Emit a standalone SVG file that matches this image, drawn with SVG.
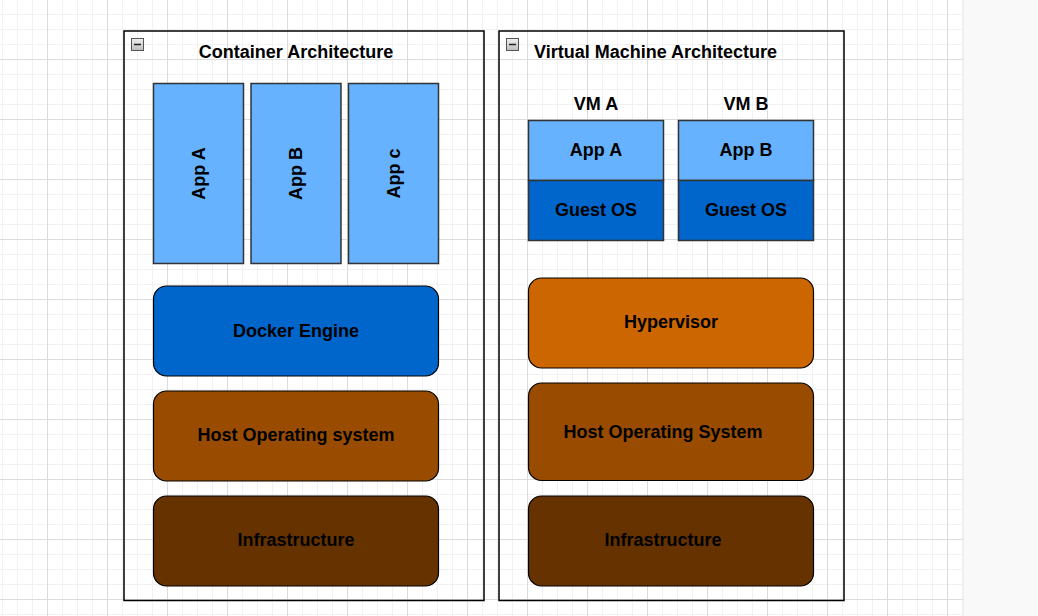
<svg xmlns="http://www.w3.org/2000/svg" width="1038" height="616" viewBox="0 0 1038 616">
  <defs>
    <pattern id="grid" patternUnits="userSpaceOnUse" x="-13" y="-1" width="60" height="60">
      <path d="M15.5 0V60M30.5 0V60M45.5 0V60M0 15.5H60M0 30.5H60M0 45.5H60" stroke="#f1f1f1" stroke-width="1" fill="none"/>
      <path d="M0.5 0V60M0 0.5H60" stroke="#dcdcdc" stroke-width="1" fill="none"/>
    </pattern>
    <linearGradient id="btn" x1="0" y1="0" x2="0" y2="1">
      <stop offset="0" stop-color="#f0f0f0"/>
      <stop offset="1" stop-color="#bdbdbd"/>
    </linearGradient>
  </defs>
  <style>
    text { font-family: "Liberation Sans", Arial, sans-serif; font-weight: bold; font-size: 18px; fill: #000; }
    .c { text-anchor: middle; }
    .container { fill: none; stroke: #000; stroke-width: 1.5; }
    .app { fill: #66B2FF; stroke: #333; stroke-width: 1.5; }
    .guest { fill: #0066CC; stroke: #333; stroke-width: 1.5; }
    .layer { stroke: #000; stroke-width: 1.2; }
    .btn { fill: url(#btn); stroke: #555; stroke-width: 1; }
  </style>
  <rect x="0" y="0" width="1038" height="616" fill="#ffffff"/>
  <rect x="0" y="0" width="963" height="616" fill="url(#grid)"/>
  <rect x="963" y="0" width="75" height="616" fill="#f9f9f9"/>
  <line x1="963.5" y1="0" x2="963.5" y2="616" stroke="#eeeeee"/>

  <g id="container-arch">
    <rect class="container" x="124" y="31" width="360" height="569.5"/>
    <rect class="btn" x="131.5" y="38.5" width="12" height="12"/>
    <line x1="134" y1="44.5" x2="141" y2="44.5" stroke="#222" stroke-width="1.5"/>
    <text class="c" x="296" y="58">Container Architecture</text>
  </g>
  <g id="vm-arch">
    <rect class="container" x="499" y="31" width="345" height="569.5"/>
    <rect class="btn" x="506.5" y="38.5" width="12" height="12"/>
    <line x1="509" y1="44.5" x2="516" y2="44.5" stroke="#222" stroke-width="1.5"/>
    <text x="534" y="58">Virtual Machine Architecture</text>
  </g>

  <g id="app-a-c">
    <rect class="app" x="153.5" y="83.5" width="90" height="180"/>
    <text class="c" transform="translate(204.5 173.5) rotate(-90)">App A</text>
  </g>
  <g id="app-b-c">
    <rect class="app" x="251" y="83.5" width="90" height="180"/>
    <text class="c" transform="translate(302 173.5) rotate(-90)">App B</text>
  </g>
  <g id="app-c-c">
    <rect class="app" x="348.5" y="83.5" width="90" height="180"/>
    <text class="c" transform="translate(399.5 173.5) rotate(-90)">App c</text>
  </g>
  <g id="docker-engine">
    <rect class="layer" x="153.5" y="286" width="285" height="90" rx="13" fill="#0066CC"/>
    <text class="c" x="296" y="337">Docker Engine</text>
  </g>
  <g id="host-os-c">
    <rect class="layer" x="153.5" y="391" width="285" height="90" rx="13" fill="#994C00"/>
    <text class="c" x="296" y="441">Host Operating system</text>
  </g>
  <g id="infra-c">
    <rect class="layer" x="153.5" y="496" width="285" height="90" rx="13" fill="#663300"/>
    <text class="c" x="296" y="546">Infrastructure</text>
  </g>

  <g id="vm-a">
    <text class="c" x="596" y="110">VM A</text>
    <rect class="app" x="528.5" y="120.5" width="135" height="60"/>
    <text class="c" x="596" y="156">App A</text>
    <rect class="guest" x="528.5" y="180.5" width="135" height="60"/>
    <text class="c" x="596" y="216">Guest OS</text>
  </g>
  <g id="vm-b">
    <text class="c" x="746" y="110">VM B</text>
    <rect class="app" x="678.5" y="120.5" width="135" height="60"/>
    <text class="c" x="746" y="156">App B</text>
    <rect class="guest" x="678.5" y="180.5" width="135" height="60"/>
    <text class="c" x="746" y="216">Guest OS</text>
  </g>
  <g id="hypervisor">
    <rect class="layer" x="528.5" y="278" width="285" height="90" rx="13" fill="#CC6600"/>
    <text class="c" x="671" y="328">Hypervisor</text>
  </g>
  <g id="host-os-vm">
    <rect class="layer" x="528.5" y="383" width="285" height="97.5" rx="13" fill="#994C00"/>
    <text class="c" x="663" y="438">Host Operating System</text>
  </g>
  <g id="infra-vm">
    <rect class="layer" x="528.5" y="496" width="285" height="90" rx="13" fill="#663300"/>
    <text class="c" x="663" y="546">Infrastructure</text>
  </g>
  <g id="connectors"/>
</svg>
